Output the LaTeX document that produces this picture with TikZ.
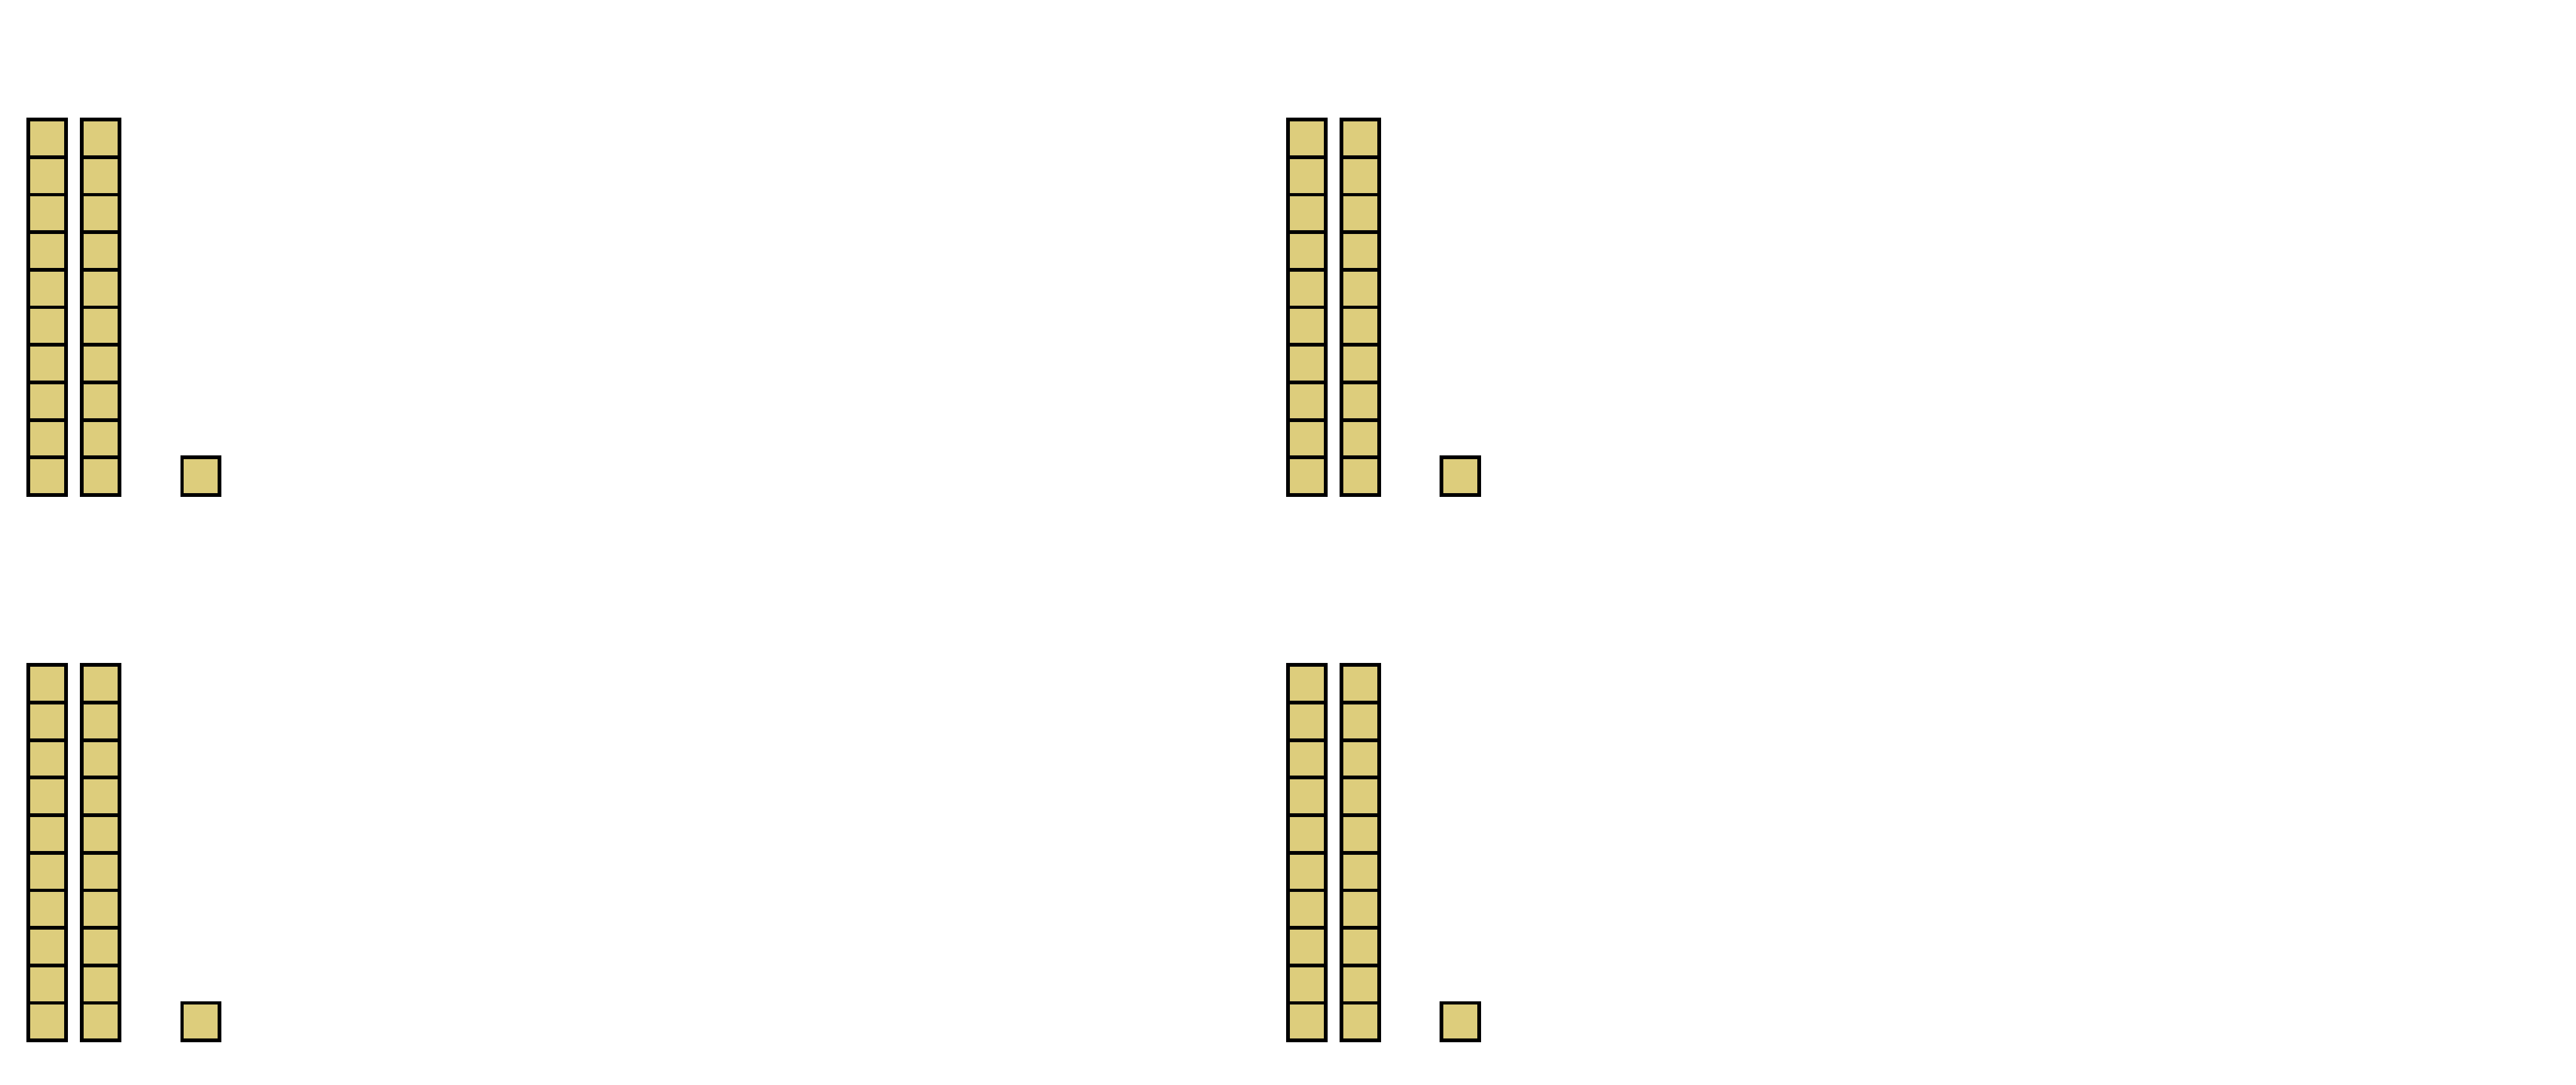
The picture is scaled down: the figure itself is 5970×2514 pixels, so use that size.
\documentclass[tikz,border=0pt]{standalone}
\definecolor{tile}{RGB}{221,205,124}
\begin{document}
\begin{tikzpicture}[x=0.01cm,y=-0.01cm,
 cell/.style={draw=black, fill=tile, line width=0.085cm, minimum width=0.87cm, minimum height=0.87cm, inner sep=0pt, outer sep=0pt, anchor=north west}]
\useasboundingbox (0,0) rectangle (5970,2514);
\foreach \g/\gx/\gy in {a/66/277, b/2985/277, c/66/1541, d/2985/1541}{
  \foreach \i in {0,...,9}{
    \node[cell] (\g-l-\i) at ({\gx},{\gy+87*\i}) {};
    \node[cell] (\g-r-\i) at ({\gx+124},{\gy+87*\i}) {};
  }
  \node[cell] (\g-one) at ({\gx+356},{\gy+783}) {};
}
\end{tikzpicture}
\end{document}
